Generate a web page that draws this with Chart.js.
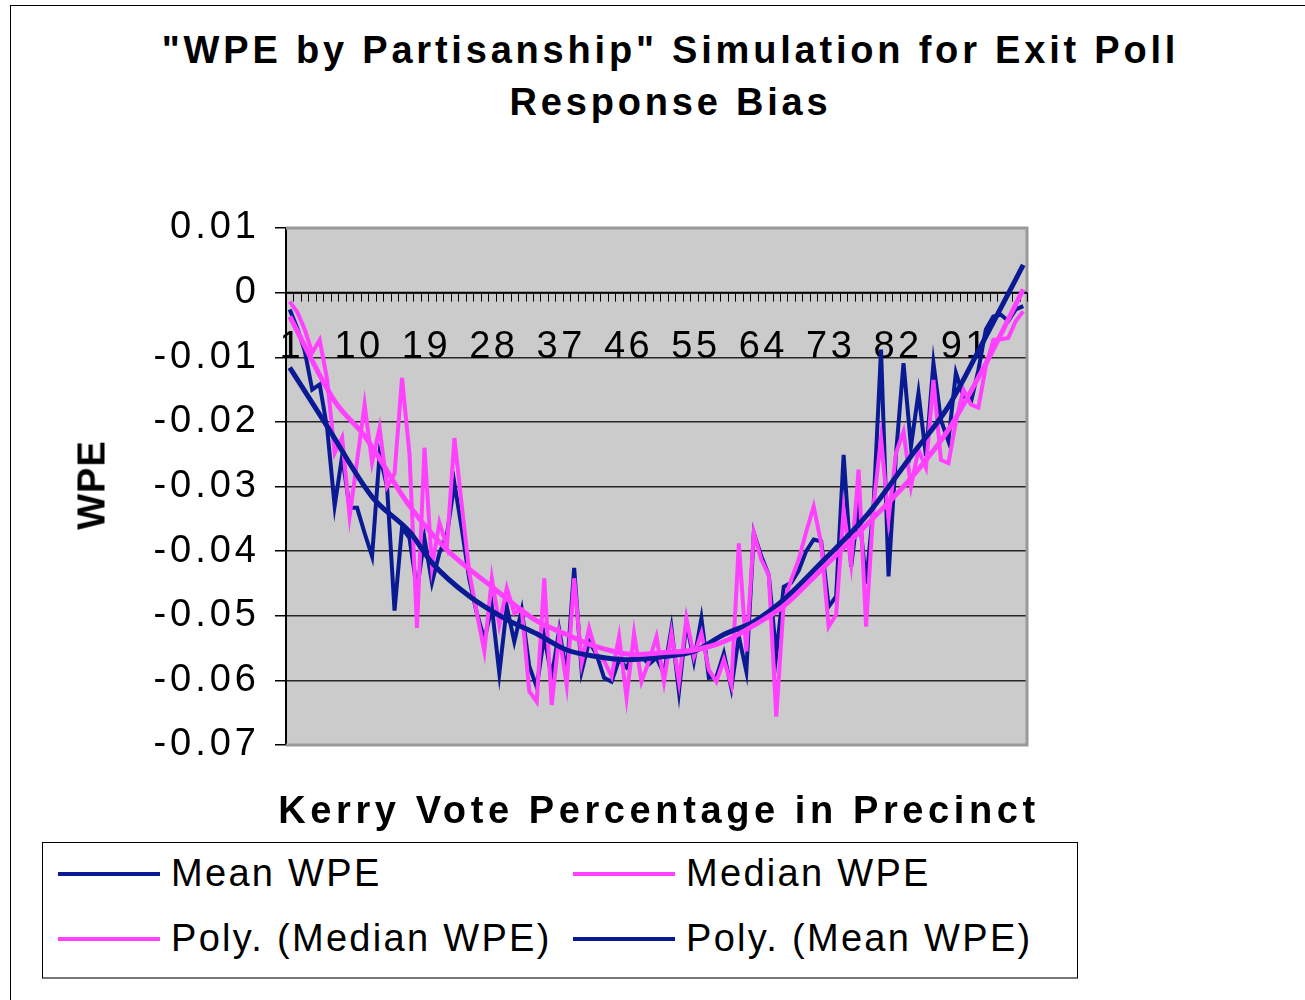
<!DOCTYPE html>
<html>
<head>
<meta charset="utf-8">
<script src="https://cdn.jsdelivr.net/npm/chart.js@4.4.1/dist/chart.umd.min.js"></script>
<style>
    body { margin: 0; width: 1305px; height: 1000px; overflow: hidden; background: #fff; font-family: "Liberation Sans", Arial, sans-serif; }
    #frame { position: absolute; left: 10px; top: 5px; width: 1400px; height: 1100px; border: 1px solid #000; }
    #chart { position: absolute; left: 0; top: 0; }
    .title { position: absolute; left: 0; width: 1341px; text-align: center; font-weight: bold; font-size: 38px; letter-spacing: 3.8px; }
    #xTitle { position: absolute; left: 0; width: 1318px; top: 789px; text-align: center; font-weight: bold; font-size: 38px; letter-spacing: 4.6px; }
    #yTitle { position: absolute; left: 92px; top: 485px; transform: translate(-50%, -50%) rotate(-90deg); font-weight: bold; font-size: 38px; letter-spacing: 1px; white-space: nowrap; }
    #legend { position: absolute; left: 42px; top: 842px; width: 1034px; height: 134px; border: 1px solid #000; border-bottom: 2px solid #777; background: #fff; }
    .item { position: absolute; font-size: 38px; letter-spacing: 2.3px; white-space: nowrap; line-height: 40px; }
    .swatch { position: absolute; height: 4px; width: 102px; }
</style>
</head>
<body>
<div id="frame"></div>
<div class="title" style="top: 29px;">"WPE by Partisanship" Simulation for Exit Poll</div>
<div class="title" style="top: 81px;">Response Bias</div>
<canvas id="chart" width="1305" height="1000"></canvas>
<div id="yTitle">WPE</div>
<div id="xTitle">Kerry Vote Percentage in Precinct</div>
<div id="legend"></div>

<script>
    // values, one per precinct category 1..99
    const meanWPE = [
        -0.0026, -0.0055, -0.0090, -0.0150, -0.0142, -0.0210, -0.0330, -0.0253, -0.0333, -0.0333,
        -0.0372, -0.0408, -0.0251, -0.0300, -0.0492, -0.0364, -0.0380, -0.0460, -0.0380, -0.0449,
        -0.0403, -0.0375, -0.0295, -0.0367, -0.0444, -0.0496, -0.0537, -0.0486, -0.0589, -0.0486,
        -0.0540, -0.0491, -0.0578, -0.0610, -0.0532, -0.0595, -0.0522, -0.0590, -0.0426, -0.0586,
        -0.0540, -0.0560, -0.0596, -0.0602, -0.0568, -0.0580, -0.0560, -0.0563, -0.0575, -0.0565,
        -0.0590, -0.0519, -0.0617, -0.0510, -0.0570, -0.0504, -0.0596, -0.0595, -0.0558, -0.0612,
        -0.0532, -0.0586, -0.0372, -0.0408, -0.0437, -0.0560, -0.0455, -0.0449, -0.0430, -0.0400,
        -0.0382, -0.0385, -0.0486, -0.0470, -0.0251, -0.0424, -0.0330, -0.0450, -0.0330, -0.0088,
        -0.0439, -0.0250, -0.0109, -0.0238, -0.0155, -0.0253, -0.0109, -0.0197, -0.0230, -0.0124,
        -0.0160, -0.0170, -0.0120, -0.0057, -0.0037, -0.0034, -0.0044, -0.0026, -0.0021
    ];
    const medianWPE = [
        -0.0014, -0.0030, -0.0057, -0.0093, -0.0073, -0.0135, -0.0248, -0.0224, -0.0346, -0.0260,
        -0.0173, -0.0263, -0.0209, -0.0300, -0.0280, -0.0132, -0.0250, -0.0519, -0.0240, -0.0424,
        -0.0356, -0.0393, -0.0225, -0.0331, -0.0434, -0.0496, -0.0555, -0.0442, -0.0514, -0.0457,
        -0.0496, -0.0491, -0.0617, -0.0633, -0.0442, -0.0638, -0.0530, -0.0607, -0.0442, -0.0573,
        -0.0519, -0.0560, -0.0570, -0.0594, -0.0532, -0.0627, -0.0527, -0.0602, -0.0570, -0.0532,
        -0.0602, -0.0527, -0.0602, -0.0504, -0.0563, -0.0527, -0.0584, -0.0602, -0.0568, -0.0607,
        -0.0388, -0.0555, -0.0372, -0.0413, -0.0437, -0.0656, -0.0480, -0.0444, -0.0413, -0.0370,
        -0.0331, -0.0388, -0.0517, -0.0498, -0.0336, -0.0420, -0.0274, -0.0517, -0.0330, -0.0225,
        -0.0350, -0.0248, -0.0215, -0.0300, -0.0243, -0.0271, -0.0135, -0.0259, -0.0264, -0.0200,
        -0.0150, -0.0173, -0.0178, -0.0114, -0.0073, -0.0072, -0.0070, -0.0044, -0.0029
    ];
    // trend lines, read at a few categories along the curve
    const polyMeanX = [1, 6, 12, 17, 20, 25, 30, 34, 38, 42, 46, 51, 55, 59, 63, 67, 72, 78, 84, 89, 94, 99];
    const polyMeanY = [-0.0116, -0.0207, -0.0316, -0.0370, -0.0418, -0.0470, -0.0506, -0.0528, -0.0553, -0.0563, -0.0568,
        -0.0563, -0.0555, -0.0529, -0.0509, -0.0475, -0.0418, -0.0346, -0.0253, -0.0176, -0.0068, 0.0043];
    const polyMedianX = [1, 7, 11, 17, 22, 28, 34, 38, 42, 47, 51, 55, 59, 63, 67, 72, 78, 84, 89, 94, 99];
    const polyMedianY = [-0.0037, -0.0168, -0.0222, -0.0330, -0.0398, -0.0455, -0.0508, -0.0529, -0.0548, -0.0560, -0.0557,
        -0.0553, -0.0540, -0.0515, -0.0485, -0.0429, -0.0360, -0.0287, -0.0212, -0.0110, 0.0005];
    const tickLabels = [1, 10, 19, 28, 37, 46, 55, 64, 73, 82, 91];
    const categories = meanWPE.map((v, i) => i + 1);

    const BLUE = '#0a1a94';
    const PINK = '#ff40ff';
    const FONT = '"Liberation Sans", Arial, sans-serif';

    const legendItems = [
        {label: 'Mean WPE', color: BLUE, col: 0, row: 0},
        {label: 'Median WPE', color: PINK, col: 1, row: 0},
        {label: 'Poly. (Median WPE)', color: PINK, col: 0, row: 1},
        {label: 'Poly. (Mean WPE)', color: BLUE, col: 1, row: 1}
    ];

    function buildLegend() {
        const box = document.getElementById('legend');
        legendItems.forEach(it => {
            const sw = document.createElement('div');
            sw.className = 'swatch';
            sw.style.background = it.color;
            sw.style.left = (15 + it.col * 515) + 'px';
            sw.style.top = (29 + it.row * 65) + 'px';
            box.appendChild(sw);
            const tx = document.createElement('div');
            tx.className = 'item';
            tx.textContent = it.label;
            tx.style.left = (128 + it.col * 515) + 'px';
            tx.style.top = (10 + it.row * 65) + 'px';
            box.appendChild(tx);
        });
    }

    const excelFrame = {
        id: 'excelFrame',
        beforeDraw(chart) {
            const {ctx, chartArea: a} = chart;
            ctx.save();
            ctx.fillStyle = '#cbcbcb';
            ctx.fillRect(a.left, a.top, a.right - a.left, a.bottom - a.top);
            ctx.restore();
            ctx.letterSpacing = '4px';
        },
        beforeDatasetsDraw(chart) {
            const {ctx, chartArea: a} = chart;
            const xs = chart.scales.x;
            const y0 = chart.scales.y.getPixelForValue(0);
            ctx.save();
            // plot area border
            ctx.strokeStyle = '#9a9a9a';
            ctx.lineWidth = 3;
            ctx.beginPath();
            ctx.moveTo(a.left, a.top);
            ctx.lineTo(a.right, a.top);
            ctx.lineTo(a.right, a.bottom);
            ctx.lineTo(a.left, a.bottom);
            ctx.stroke();
            // category axis crosses at 0
            ctx.strokeStyle = '#000';
            ctx.lineWidth = 2;
            ctx.beginPath();
            ctx.moveTo(a.left, y0);
            ctx.lineTo(a.right, y0);
            ctx.stroke();
            ctx.lineWidth = 1;
            ctx.beginPath();
            for (let k = 0; k <= categories.length; k++) {
                const px = Math.round(xs.getPixelForValue(k + 0.5)) + 0.5;
                ctx.moveTo(px, y0);
                ctx.lineTo(px, y0 + 9);
            }
            ctx.stroke();
            ctx.fillStyle = '#000';
            ctx.font = '38px ' + FONT;
            ctx.letterSpacing = '3.5px';
            ctx.textAlign = 'center';
            ctx.textBaseline = 'alphabetic';
            tickLabels.forEach(t => {
                ctx.fillText(String(t), xs.getPixelForValue(t) + 2, y0 + 65);
            });
            ctx.restore();
        }
    };

    buildLegend();

    new Chart(document.getElementById('chart'), {
        type: 'line',
        data: {
            datasets: [
                {
                    label: 'Mean WPE',
                    data: meanWPE.map((v, i) => ({x: categories[i], y: v})),
                    borderColor: BLUE, borderWidth: 4, pointRadius: 0, tension: 0, order: 4
                },
                {
                    label: 'Median WPE',
                    data: medianWPE.map((v, i) => ({x: categories[i], y: v})),
                    borderColor: PINK, borderWidth: 4, pointRadius: 0, tension: 0, order: 3
                },
                {
                    label: 'Poly. (Median WPE)',
                    data: polyMedianX.map((x, i) => ({x: x, y: polyMedianY[i]})),
                    borderColor: PINK, borderWidth: 5, pointRadius: 0, cubicInterpolationMode: 'monotone', order: 1
                },
                {
                    label: 'Poly. (Mean WPE)',
                    data: polyMeanX.map((x, i) => ({x: x, y: polyMeanY[i]})),
                    borderColor: BLUE, borderWidth: 5, pointRadius: 0, cubicInterpolationMode: 'monotone', order: 2
                }
            ]
        },
        options: {
            responsive: false,
            devicePixelRatio: 1,
            animation: false,
            layout: {padding: {top: 228, right: 278, bottom: 255, left: 0}},
            plugins: {legend: {display: false}, title: {display: false}, tooltip: {enabled: false}},
            scales: {
                x: {type: 'linear', min: 0.5, max: 99.5, display: false},
                y: {
                    min: -0.07,
                    max: 0.01,
                    afterFit: s => { s.width = 286; },
                    ticks: {
                        stepSize: 0.01,
                        padding: 15,
                        color: '#000',
                        font: {family: FONT, size: 38},
                        callback: v => {
                            const r = Math.round(v * 100) / 100;
                            return r === 0 ? '0' : String(r);
                        }
                    },
                    grid: {color: '#262626', lineWidth: 1.5, tickLength: 11, tickColor: '#000', tickWidth: 1.5},
                    border: {display: true, color: '#000', width: 2}
                }
            }
        },
        plugins: [excelFrame]
    });
</script>
</body>
</html>
